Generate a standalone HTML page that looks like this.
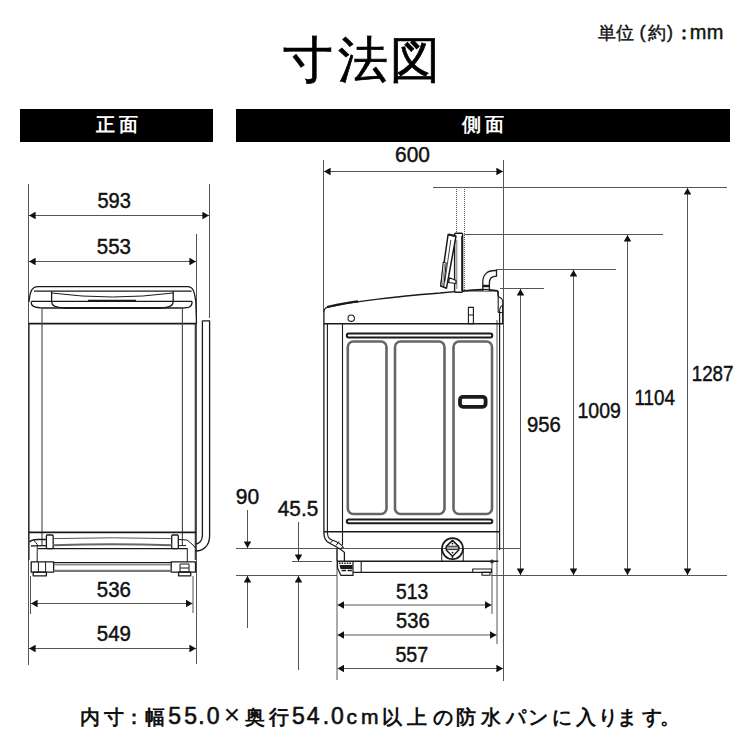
<!DOCTYPE html>
<html><head><meta charset="utf-8">
<style>
html,body{margin:0;padding:0;background:#fff;}
body{width:750px;height:750px;overflow:hidden;position:relative;font-family:"Liberation Sans",sans-serif;}
svg{position:absolute;left:0;top:0;}
</style></head><body>
<svg width="750" height="750" viewBox="0 0 750 750" font-family="Liberation Sans, sans-serif">
<defs>
  <marker id="a" viewBox="0 0 6.6 7.6" refX="6.6" refY="3.8" markerWidth="6.6" markerHeight="7.6" markerUnits="userSpaceOnUse" orient="auto-start-reverse"><path d="M0,0 L6.6,3.8 L0,7.6z" fill="#111"/></marker>
</defs>
<rect x="20" y="109" width="193" height="33" fill="#000"/>
<rect x="236" y="109" width="494" height="33" fill="#000"/>
<g stroke="#555" stroke-width="1" fill="none">
<!-- FRONT dims -->
<line x1="28.5" y1="184" x2="28.5" y2="665"/>
<line x1="209.5" y1="184" x2="209.5" y2="318"/>
<line x1="196.5" y1="234" x2="196.5" y2="664"/>
<line x1="30.5" y1="576" x2="30.5" y2="614"/>
<line x1="193" y1="576" x2="193" y2="613"/>
<line x1="29" y1="215.5" x2="209" y2="215.5" marker-start="url(#a)" marker-end="url(#a)"/>
<line x1="29" y1="261.5" x2="196" y2="261.5" marker-start="url(#a)" marker-end="url(#a)"/>
<line x1="31" y1="603.5" x2="192.5" y2="603.5" marker-start="url(#a)" marker-end="url(#a)"/>
<line x1="29" y1="648.5" x2="196" y2="648.5" marker-start="url(#a)" marker-end="url(#a)"/>
<!-- SIDE dims -->
<line x1="323.5" y1="160" x2="323.5" y2="312"/>
<line x1="503.5" y1="160" x2="503.5" y2="681"/>
<line x1="324" y1="171.5" x2="503" y2="171.5" marker-start="url(#a)" marker-end="url(#a)"/>
<line x1="433" y1="187.5" x2="727" y2="187.5"/>
<line x1="464.5" y1="234.5" x2="663" y2="234.5"/>
<line x1="496" y1="269.5" x2="616" y2="269.5"/>
<line x1="500" y1="288.5" x2="544" y2="288.5"/>
<line x1="520.5" y1="289" x2="520.5" y2="575" marker-start="url(#a)" marker-end="url(#a)"/>
<line x1="573.5" y1="270" x2="573.5" y2="575" marker-start="url(#a)" marker-end="url(#a)"/>
<line x1="627.5" y1="235" x2="627.5" y2="575" marker-start="url(#a)" marker-end="url(#a)"/>
<line x1="687.5" y1="188" x2="687.5" y2="575" marker-start="url(#a)" marker-end="url(#a)"/>
<line x1="491" y1="575.5" x2="727" y2="575.5"/>
<line x1="236" y1="575.5" x2="337" y2="575.5"/>
<line x1="236" y1="548.5" x2="520" y2="548.5"/>
<line x1="292" y1="561.5" x2="332" y2="561.5"/>
<line x1="247.5" y1="510" x2="247.5" y2="548" marker-end="url(#a)"/>
<line x1="247.5" y1="628" x2="247.5" y2="576" marker-end="url(#a)"/>
<line x1="298.5" y1="522" x2="298.5" y2="561" marker-end="url(#a)"/>
<line x1="298.5" y1="670" x2="298.5" y2="576" marker-end="url(#a)"/>
<line x1="337" y1="548" x2="337" y2="680"/>
<line x1="337.5" y1="605" x2="491.5" y2="605" marker-start="url(#a)" marker-end="url(#a)"/>
<line x1="337.5" y1="635" x2="496.5" y2="635" marker-start="url(#a)" marker-end="url(#a)"/>
<line x1="337.5" y1="668.5" x2="503" y2="668.5" marker-start="url(#a)" marker-end="url(#a)"/>
<line x1="492" y1="561" x2="492" y2="614"/>
<line x1="497" y1="320" x2="497" y2="644"/>
<line x1="456.5" y1="187" x2="456.5" y2="233" stroke-dasharray="1 1"/>
<line x1="464.5" y1="187" x2="464.5" y2="291" stroke-dasharray="1 1"/>
</g>
<g stroke="#1a1a1a" stroke-width="1.3" fill="none" stroke-linejoin="round">
<!-- lid -->
<path d="M29,302 C30,291 32,286.6 38,286.6 L187.5,286.6 C193,286.6 194.5,291 195.8,302"/>
<line x1="34" y1="291.2" x2="191.6" y2="291.2"/>
<line x1="31.5" y1="301.4" x2="192" y2="301.4"/>
<path d="M31.5,301.4 C30.5,306 34,308 44,308 L182,308 C190,308 192.5,306 192,301.4"/>
<path d="M51.6,291.2 L51.6,302 C51.6,305.5 55,307.5 64,308"/>
<path d="M173.2,291.2 L173.2,302 C173.2,305.5 170,307.5 161,308"/>
<path d="M51.6,293 Q112.4,301 173.2,293" stroke-width="1"/>
<line x1="88" y1="300.8" x2="136" y2="300.8" stroke-width="2"/>
<line x1="64" y1="308" x2="161" y2="308" stroke-width="1.8"/>
<path d="M195.8,302 L196.5,323.6"/>
<line x1="28.5" y1="323.6" x2="196.5" y2="323.6" stroke-width="1.6"/>
<line x1="42" y1="308" x2="42" y2="545" stroke="#444" stroke-width="1.1"/>
<line x1="182.4" y1="308" x2="182.4" y2="545" stroke="#444" stroke-width="1.1"/>
<line x1="29" y1="323.6" x2="29" y2="560" stroke-width="1.1"/>
<line x1="195.3" y1="323.6" x2="195.3" y2="560" stroke-width="1.1"/>
<line x1="28.5" y1="532.4" x2="196" y2="532.4" stroke-width="1.6"/>
<!-- base band -->
<path d="M29.5,542 C31,540 33,539.5 38,539.5 L46.4,539.5" />
<path d="M31,546 C33,545.8 36,545.6 46.4,545.6" />
<path d="M33,539.8 C36,542 37,544 38,546" stroke-width="1"/>
<rect x="46.4" y="535" width="6.8" height="13.6" rx="1"/>
<rect x="171.7" y="535" width="6.6" height="13.6" rx="1"/>
<path d="M53.2,538.6 Q112,537 171.7,538.6" stroke="#555" stroke-width="1"/>
<path d="M53.2,545.2 Q112,543.5 171.7,545.2" stroke="#666" stroke-width="2"/>
<line x1="38" y1="548.6" x2="187" y2="548.6"/>
<path d="M178.3,539.5 L187,540 L193,545 L195.5,548" stroke-width="1"/>
<path d="M178.3,545.6 L186,545.6" stroke-width="1"/>
<line x1="37.2" y1="546" x2="37.2" y2="562" stroke-width="1"/>
<line x1="187.3" y1="548" x2="187.3" y2="562" stroke-width="1"/>
<!-- base plate -->
<rect x="31.2" y="561.8" width="22.4" height="10.4"/>
<rect x="171.2" y="561.8" width="24.3" height="10.4"/>
<line x1="38.4" y1="562" x2="38.4" y2="572" stroke-width="1"/>
<line x1="45.6" y1="562" x2="45.6" y2="572" stroke-width="1"/>
<line x1="53.6" y1="562.6" x2="171.2" y2="562.6" stroke-width="1.1"/>
<line x1="53.6" y1="564.8" x2="171.2" y2="564.8" stroke="#555" stroke-width="1"/>
<line x1="53.6" y1="570.8" x2="171.2" y2="570.8" stroke="#777" stroke-width="2.2"/>
<rect x="33.2" y="572.2" width="13.2" height="3.6"/>
<rect x="178.6" y="572.2" width="12.1" height="3.6"/>
<rect x="180" y="564" width="9" height="8" stroke-width="1"/>
<line x1="180" y1="568" x2="189" y2="568" stroke-width="1"/>
<!-- hose -->
<path d="M202.4,320.8 L209.6,320.8 L209.6,536 C209.6,546 203,551 195.5,551"/>
<path d="M202.4,320.8 L202.4,535 C202.4,541 199,544 195.5,544"/>
</g>
<g stroke="#1a1a1a" stroke-width="1.3" fill="none" stroke-linejoin="round">
<!-- top profile -->
<path d="M323.9,532 L323.9,313 C323.9,309 325,307.8 328,307.2 C345,303.5 362,301 378,299.2 C400,296.6 420,294.3 440,293 L463,290.8 L497.6,290.8 L498.2,296.5"/>
<path d="M327,307 C340,304 350,302 358,301.3" stroke-width="2.2"/>
<circle cx="351.2" cy="318.2" r="3.2" stroke-width="1.1"/>
<line x1="323.9" y1="323.8" x2="503" y2="323.8" stroke-width="1.6"/>
<line x1="327.4" y1="324" x2="327.4" y2="532" stroke-width="1.1"/>
<line x1="342.5" y1="324" x2="342.5" y2="545" stroke-width="1.1"/>
<line x1="498.2" y1="291" x2="498.2" y2="312.5" stroke-width="1.1"/>
<line x1="499.6" y1="312.5" x2="499.6" y2="550" stroke-width="1.2"/>
<path d="M498.2,296.5 L501.5,298.5 C502.8,300 503,303 502.6,306 L502.6,312.5 L498.2,312.5 M499.5,312.5 C499.5,308 500,306 502.6,305.5 M502.6,312.5 L502.6,323.8" stroke-width="1.1"/>
<!-- rails -->
<rect x="346.8" y="333.5" width="145.5" height="4" rx="2" stroke-width="2"/>
<rect x="346.8" y="519.4" width="145.5" height="3.8" rx="1.9" stroke-width="2"/>
<!-- panels -->
<g stroke="#666" stroke-width="2.6">
<rect x="347.8" y="341.5" width="38.7" height="172.5" rx="5.5"/>
<rect x="395" y="341.5" width="49.5" height="172.5" rx="5.5"/>
<rect x="453.5" y="341.5" width="38.5" height="172.5" rx="5.5"/>
</g>
<rect x="460" y="396.8" width="25.6" height="10" rx="3" stroke-width="3.8"/>
<line x1="323.9" y1="531.8" x2="499.6" y2="531.8" stroke-width="1.6"/>
<!-- front skirt -->
<path d="M323.9,532 C324,538 325,541 330,543.5 C335,546 341,549 344.4,552.4 L344.4,561"/>
<path d="M327.4,532 C327.6,536 328,538.5 332,540 C337,541.5 341,543 343.6,548" stroke-width="1.1"/>
<path d="M330,543.5 L333,540 M336,545.5 L339,541.5 M341,549 L342.8,546" stroke-width="1"/>
<line x1="337" y1="548.5" x2="337" y2="561" stroke-width="1.1"/>
<!-- drain -->
<path d="M441.7,561 L441.7,549 M463.3,549 L463.3,561" stroke="#444" stroke-width="1.2"/>
<circle cx="452.5" cy="548.6" r="10.5" stroke-width="1.7"/>
<path d="M452.5,540.4 L458.6,546.4 Q459.6,548.3 458.6,550.2 L452.5,556.3 L446.4,550.2 Q445.4,548.3 446.4,546.4z" stroke-width="1.5"/>
<rect x="446.5" y="546.2" width="12" height="3.4" fill="#aaa" stroke-width="0.9"/>
<circle cx="452.5" cy="543.6" r="0.9" fill="#111" stroke="none"/>
<circle cx="452.5" cy="552.6" r="0.9" fill="#111" stroke="none"/>
<line x1="452.5" y1="556" x2="452.5" y2="558" stroke-width="1.4"/>
<!-- base plate -->
<line x1="337" y1="561.3" x2="498.3" y2="561.3" stroke-width="1.4"/>
<line x1="353" y1="572.4" x2="472.7" y2="572.4" stroke-width="1.4"/>
<line x1="361.2" y1="561.3" x2="361.2" y2="572.4" stroke-width="1.1"/>
<path d="M337.5,561.5 L353,561.5 L353,575.4 L341,575.4 L337.5,568z" fill="#fff" stroke-width="1.2"/>
<line x1="339" y1="563.2" x2="352" y2="563.2" stroke-width="1.6" stroke-dasharray="1.6 1"/>
<path d="M339.5,565 L352.5,565 L352.5,569 L340.5,569z" fill="#1a1a1a" stroke="none"/>
<path d="M341.5,570.5 L346,570.5 M347.5,570.5 L352,570.5" stroke-width="1.4"/>
<rect x="472.7" y="569" width="18.7" height="3.4" stroke-width="1.1"/>
<rect x="482" y="572.4" width="8" height="2.8" stroke-width="1.1"/>
<circle cx="492" cy="561.5" r="1.5" stroke-width="1"/>
<!-- top parts: lid -->
<rect x="454.6" y="233.2" width="8" height="59" rx="1" fill="#fff" stroke-width="1.4"/>
<line x1="462" y1="236" x2="462" y2="291" stroke-width="1.6"/>
<line x1="456.8" y1="240" x2="456.8" y2="289" stroke="#777" stroke-width="1"/>
<path d="M448.1,234.5 L456,236.2 L446.5,288.2 L440.7,286z" fill="#fff" stroke-width="1.5"/>
<line x1="450.8" y1="240" x2="444.8" y2="282" stroke="#444" stroke-width="1"/>
<path d="M443.2,262.3 L446.2,263 L443.8,286.5 L440.8,285.8z" fill="#fff" stroke-width="1.1"/>
<line x1="444.7" y1="264" x2="442.5" y2="285" stroke="#777" stroke-width="0.9"/>
<path d="M449.6,277.8 L456,280.5 L456,283.5 L448.5,282.5z" fill="#fff" stroke-width="1.2"/>
<line x1="448.5" y1="234.6" x2="455.5" y2="236" stroke-width="2"/>
<!-- hose -->
<path d="M482.8,291 L482.8,282 C482.8,275 487,270.5 495,270.5 L496.5,270.5 L496.5,276.2 C492,276.2 489.4,279 489.4,283 L489.4,291" fill="#fff"/>
<line x1="482.8" y1="286" x2="489.4" y2="286" stroke-width="2.4"/>
<path d="M463,291 C475,289 490,289.5 497.6,290.8" stroke-width="1.6"/>
<!-- post -->
<rect x="468.4" y="307.4" width="5" height="16.4" stroke-width="1.1"/>
<line x1="468.4" y1="315" x2="473.4" y2="315" stroke-width="1"/>
</g>
<!-- nums -->
<g fill="#111" stroke="#111" stroke-width="0.45" font-size="21.8" text-anchor="middle" lengthAdjust="spacingAndGlyphs">
<text x="114.15" y="207.7" textLength="33.5" lengthAdjust="spacingAndGlyphs">593</text>
<text x="113.85" y="253.5" textLength="34.1" lengthAdjust="spacingAndGlyphs">553</text>
<text x="113.85" y="596.8" textLength="34.1" lengthAdjust="spacingAndGlyphs">536</text>
<text x="113.85" y="641" textLength="34.1" lengthAdjust="spacingAndGlyphs">549</text>
<text x="412.45" y="162.4" textLength="34.9" lengthAdjust="spacingAndGlyphs">600</text>
<text x="412.15" y="598.7" textLength="32.1" lengthAdjust="spacingAndGlyphs">513</text>
<text x="412.85" y="628.3" textLength="33.5" lengthAdjust="spacingAndGlyphs">536</text>
<text x="411.80" y="661.7" textLength="32.8" lengthAdjust="spacingAndGlyphs">557</text>
<text x="247.50" y="504" textLength="23.4" lengthAdjust="spacingAndGlyphs">90</text>
<text x="298.00" y="516" textLength="40.4" lengthAdjust="spacingAndGlyphs">45.5</text>
<text x="544.00" y="432" textLength="33.8" lengthAdjust="spacingAndGlyphs">956</text>
<text x="599.20" y="417.8" textLength="43.4" lengthAdjust="spacingAndGlyphs">1009</text>
<text x="654.65" y="405" textLength="40.5" lengthAdjust="spacingAndGlyphs">1104</text>
<text x="712.60" y="381" textLength="41.8" lengthAdjust="spacingAndGlyphs">1287</text>
</g>
</svg>
<svg width="750" height="750" viewBox="0 0 750 750" font-family="Liberation Sans, sans-serif">
<g fill="#000" stroke="#000" stroke-width="0.7" font-size="50">
<text x="282.9" y="76.5">寸</text><text x="338.3" y="76.5">法</text><text x="390.3" y="76.5">図</text>
</g>
<g fill="#111" stroke="#111" stroke-width="0.4">
<text x="598.4" y="38.5" font-size="17.5">単</text><text x="616.1" y="38.5" font-size="17.5">位</text>
<text x="639.4" y="38" font-size="18">(</text><text x="647.9" y="38.5" font-size="17.5">約</text><text x="667" y="38" font-size="18">)</text>
<text x="675" y="38.5" font-size="17.5" stroke-width="0.9">：</text>
<text x="689.8" y="38.5" font-size="20" letter-spacing="0.2">mm</text>
</g>
<g fill="#fff" font-weight="bold" font-size="20">
<text x="96.4" y="130.8" font-size="19" letter-spacing="3.8">正面</text>
<text x="462" y="130.5" font-size="19" letter-spacing="3.8">側面</text>
</g>
<g font-weight="bold" fill="#111"><text x="80.2" y="723.5" font-size="20">内</text><text x="104.0" y="723.5" font-size="20">寸</text><text x="124.4" y="723.5" font-size="20">：</text><text x="144.7" y="723.5" font-size="20">幅</text><text font-weight="normal" stroke="#111" stroke-width="0.6" x="168.3" y="723.5" font-size="23">5</text><text font-weight="normal" stroke="#111" stroke-width="0.6" x="184.3" y="723.5" font-size="23">5</text><text font-weight="normal" stroke="#111" stroke-width="0.6" x="198.2" y="723.5" font-size="23">.</text><text font-weight="normal" stroke="#111" stroke-width="0.6" x="206.7" y="723.5" font-size="23">0</text><text font-weight="normal" x="223.7" y="723.5" font-size="28">×</text><text x="244.8" y="723.5" font-size="20">奥</text><text x="269.3" y="723.5" font-size="20">行</text><text font-weight="normal" stroke="#111" stroke-width="0.6" x="292.0" y="723.5" font-size="23">5</text><text font-weight="normal" stroke="#111" stroke-width="0.6" x="306.8" y="723.5" font-size="23">4</text><text font-weight="normal" stroke="#111" stroke-width="0.6" x="322.8" y="723.5" font-size="23">.</text><text font-weight="normal" stroke="#111" stroke-width="0.6" x="331.0" y="723.5" font-size="23">0</text><text font-weight="normal" stroke="#111" stroke-width="0.6" x="346.6" y="723.5" font-size="21">c</text><text font-weight="normal" stroke="#111" stroke-width="0.6" x="361.0" y="723.5" font-size="21">m</text><text x="381.7" y="723.5" font-size="20">以</text><text x="406.7" y="723.5" font-size="20">上</text><text x="432.7" y="723.5" font-size="20">の</text><text x="455.7" y="723.5" font-size="20">防</text><text x="480.7" y="723.5" font-size="20">水</text><text x="506.0" y="723.5" font-size="20">パ</text><text x="528.0" y="723.5" font-size="20">ン</text><text x="552.0" y="723.5" font-size="20">に</text><text x="576.0" y="723.5" font-size="20">入</text><text x="598.4" y="723.5" font-size="20">り</text><text x="617.0" y="723.5" font-size="20">ま</text><text x="641.6" y="723.5" font-size="20">す</text><text x="659.6" y="723.5" font-size="20">。</text></g>
</svg>
</body></html>
